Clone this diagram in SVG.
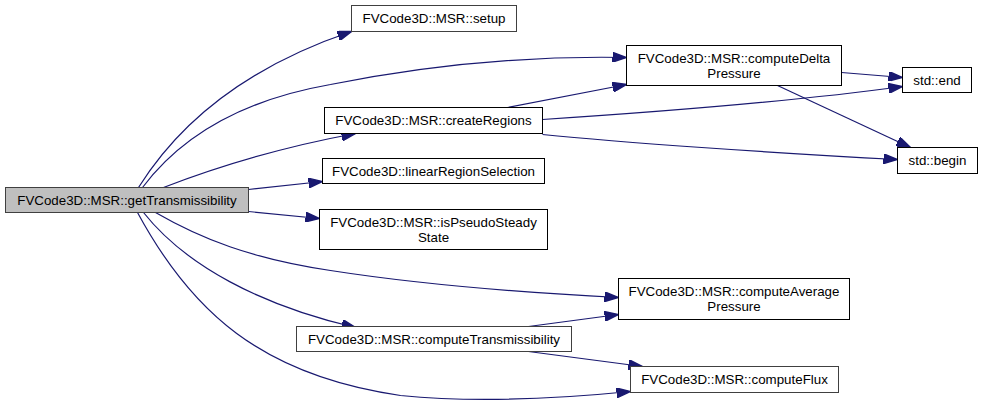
<svg xmlns="http://www.w3.org/2000/svg" width="981" height="408" viewBox="0 0 981 408">
<style>
.n rect{fill:#ffffff;stroke:#000000;stroke-width:1}
.n.g rect{stroke:#404040}
.n.m rect{fill:#bfbfbf;stroke:#404040}
.n text{font-family:"Liberation Sans",Arial,sans-serif;font-size:13.33px;fill:#000000;text-anchor:middle}
.e path{fill:none;stroke:#191970;stroke-width:1.2;marker-end:url(#a)}
</style>
<defs>
<marker id="a" viewBox="0 0 10 7" refX="10" refY="3.5" markerWidth="14" markerHeight="9.8" markerUnits="userSpaceOnUse" orient="auto">
<path d="M0,0 L10,3.5 L0,7 z" fill="#191970" stroke="#191970"/>
</marker>
</defs>
<rect width="981" height="408" fill="#ffffff"/>
<g transform="translate(0.5,0.5)">
<g id="edges" class="e">
<path d="M138,187 C180,120 250,65 351,31"/>
<path d="M142,187 C185,130 250,98 330,84 C420,66 520,55 626,57"/>
<path d="M163,187 C220,165 290,145 355,133"/>
<path d="M248,189 L322,181"/>
<path d="M248,211 L319,218"/>
<path d="M155,212 C200,238 250,258 330,270 C420,284 520,292 618,297"/>
<path d="M143,212 C185,265 260,305 355,327"/>
<path d="M137,212 C190,310 260,375 400,395 C480,403 560,398 630,391"/>
<path d="M528,326 L618,314"/>
<path d="M528,351 L642,366"/>
<path d="M507,107 L626,84"/>
<path d="M542,119 C650,112 800,100 902,86"/>
<path d="M542,134 C620,142 780,153 897,159"/>
<path d="M841,72 L902,77"/>
<path d="M777,85 L910,147"/>
</g>
<g id="n_main" class="n m"><rect x="5" y="187" width="243" height="25"/><text x="126.5" y="204">FVCode3D::MSR::getTransmissibility</text></g>
<g id="n_setup" class="n g"><rect x="351" y="5" width="165" height="26"/><text x="433.5" y="22.5">FVCode3D::MSR::setup</text></g>
<g id="n_createRegions" class="n"><rect x="324" y="107" width="218" height="26"/><text x="433" y="124.5">FVCode3D::MSR::createRegions</text></g>
<g id="n_linear" class="n"><rect x="322" y="158" width="222" height="25"/><text x="433" y="175">FVCode3D::linearRegionSelection</text></g>
<g id="n_pseudo" class="n"><rect x="319" y="209" width="228" height="40"/><text x="433" y="226">FVCode3D::MSR::isPseudoSteady</text><text x="433" y="241">State</text></g>
<g id="n_ct" class="n g"><rect x="296" y="326" width="275" height="25"/><text x="433.5" y="343">FVCode3D::MSR::computeTransmissibility</text></g>
<g id="n_cdp" class="n"><rect x="626" y="45" width="215" height="40"/><text x="733.5" y="62">FVCode3D::MSR::computeDelta</text><text x="733.5" y="77">Pressure</text></g>
<g id="n_cap" class="n"><rect x="618" y="278" width="231" height="41"/><text x="733.5" y="295">FVCode3D::MSR::computeAverage</text><text x="733.5" y="310">Pressure</text></g>
<g id="n_cf" class="n g"><rect x="630" y="366" width="208" height="26"/><text x="734" y="383.5">FVCode3D::MSR::computeFlux</text></g>
<g id="n_end" class="n"><rect x="902" y="67" width="69" height="25"/><text x="936.5" y="84">std::end</text></g>
<g id="n_begin" class="n"><rect x="897" y="147" width="80" height="26"/><text x="937" y="164.5">std::begin</text></g>
</g>
</svg>
